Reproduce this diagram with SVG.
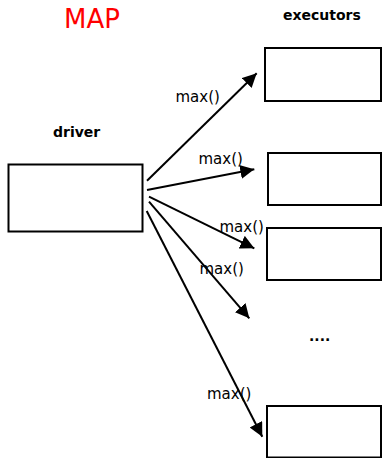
<svg xmlns="http://www.w3.org/2000/svg" width="382" height="458" viewBox="0 0 382 458">
  <style>
    .box { fill: #ffffff; stroke: #000000; stroke-width: 2; }
    .edge { fill: none; stroke: #000000; stroke-width: 2; marker-end: url(#arrow); }
    .lbl { font-family: "DejaVu Sans", sans-serif; font-size: 15px; fill: #000000; }
    .head { font-family: "DejaVu Sans", sans-serif; font-size: 14px; font-weight: bold; fill: #000000; }
    .title { font-family: "DejaVu Sans", sans-serif; font-size: 26px; fill: #ff0000; }
  </style>
  <defs>
    <marker id="arrow" markerUnits="userSpaceOnUse" markerWidth="16" markerHeight="15" refX="14" refY="7" orient="auto">
      <path d="M0,0 L14,7 L0,14 z" fill="#000000"/>
    </marker>
  </defs>
  <rect width="382" height="458" fill="#ffffff"/>

  <text class="title" x="64" y="28">MAP</text>
  <text class="head" x="283" y="20" font-size="15">executors</text>
  <text class="head" x="53" y="137">driver</text>

  <g id="driver">
    <rect class="box" x="8.5" y="164.5" width="134" height="67"/>
  </g>
  <g id="executor1">
    <rect class="box" x="265" y="48" width="116" height="53"/>
  </g>
  <g id="executor2">
    <rect class="box" x="268" y="153" width="113" height="52"/>
  </g>
  <g id="executor3">
    <rect class="box" x="267" y="228" width="114" height="52"/>
  </g>
  <g id="more">
    <text class="head" x="309" y="341" font-size="15">....</text>
  </g>
  <g id="executor4">
    <rect class="box" x="267" y="406" width="114" height="51.5"/>
  </g>

  <g id="connectors">
    <line class="edge" x1="147" y1="180.7" x2="256.7" y2="73.3"/>
    <line class="edge" x1="147" y1="190" x2="254.3" y2="169.3"/>
    <line class="edge" x1="149" y1="196.7" x2="254.3" y2="248.3"/>
    <line class="edge" x1="149" y1="201.7" x2="249.3" y2="318.3"/>
    <line class="edge" x1="146.7" y1="211" x2="262.3" y2="436.7"/>
    <text class="lbl" x="175.5" y="101.5">max()</text>
    <text class="lbl" x="198.5" y="163.5">max()</text>
    <text class="lbl" x="219.5" y="231.5">max()</text>
    <text class="lbl" x="199.5" y="273.5">max()</text>
    <text class="lbl" x="207" y="398.5">max()</text>
  </g>
</svg>
